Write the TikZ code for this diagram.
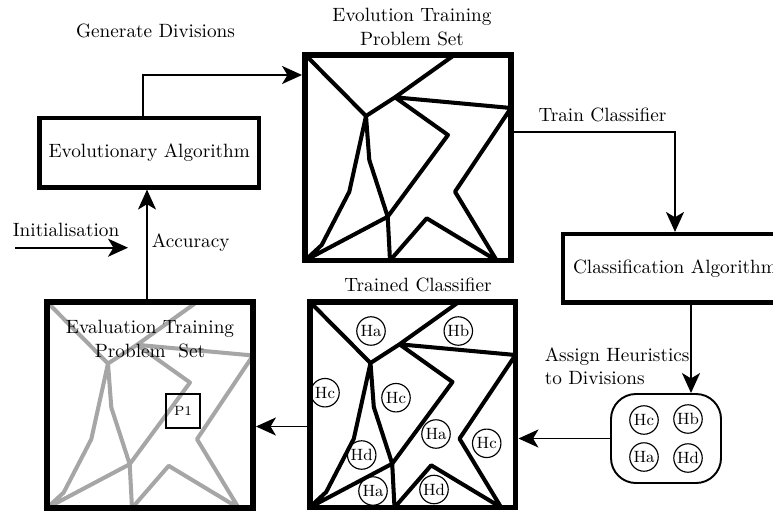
\documentclass[tikz,border=0pt]{standalone}
\usetikzlibrary{arrows.meta,calc}

% Partition of a problem set into divisions, drawn about the square's centre.
\tikzset{
  regions/.pic={
    \draw[line width=2.1pt,line join=round,#1]
      (-103,-103) -- (-42,-41.5) -- (-13,-60.2) -- (47,-103)
      (-13,-60.2) -- (103,-49.5)
      (-13,-60.2) -- (40,-22.5) -- (-20.3,59.2) -- (-103,103)
      (-42,-41.5) -- (-58.7,34.2) -- (-86.3,87.5) -- (-103,103)
      (-42,-41.5) -- (-38.7,2.5) -- (-20.3,59.2) -- (-18,103)
      (-18,103) -- (18.7,60.8) -- (88.7,103)
      (103,-49.5) -- (47,34.2) -- (88.7,103);
  }
}

\begin{document}
\begin{tikzpicture}[x=0.52pt,y=-0.52pt,
  every node/.style={font=\fontsize{10}{12}\selectfont},
  arr/.style={line width=0.85pt,-{Stealth[length=10.4pt,width=9.4pt,inset=2.8pt]}},
  probset/.style={draw,line width=3.1pt,minimum size=107.1pt,inner sep=0pt},
  algbox/.style={draw,line width=2.2pt,inner sep=0pt},
  heur/.style={draw,circle,line width=0.6pt,minimum size=14.8pt,inner sep=0pt,
               font=\fontsize{8.5}{10}\selectfont},
  probe/.style={draw,line width=1pt,minimum size=17.7pt,inner sep=0pt,
                font=\fontsize{7}{8}\selectfont}
]
\useasboundingbox (0,0) rectangle (773,512);
\clip (0,0) rectangle (773,512);

% problem sets
\pic at (408,157.5) {regions=black};
\node[probset] (evo) at (408,157.5) {};

\pic at (412.5,404.5) {regions=black};
\node[probset] (tcl) at (412.5,404.5) {};

\pic at (150,405) {regions=black!35};
\node[probset] (ev) at (150,405) {};

% heuristics assigned to divisions
\node[heur] (ha1) at (371,331) {Ha};
\node[heur] (hb1) at (458.3,331) {Hb};
\node[heur] (hc1) at (325,392.7) {Hc};
\node[heur] (hc2) at (396,397.7) {Hc};
\node[heur] (ha2) at (436,434) {Ha};
\node[heur] (hc3) at (486.7,443.3) {Hc};
\node[heur] (hd1) at (361.7,455) {Hd};
\node[heur] (ha3) at (373,491) {Ha};
\node[heur] (hd2) at (434,489.5) {Hd};

% problem in the evaluation set
\node[probe] (p1) at (183,411) {P1};
\node[align=center] (evalt) at (150,339) {Evaluation Training\\Problem\ \ Set};

% algorithms
\node[algbox,minimum width=114.1pt,minimum height=36.1pt] (ea) at (149.25,152.75) {Evolutionary Algorithm};
\node[algbox,minimum width=116.5pt,minimum height=35.6pt] (cls) at (675,268.25) {Classification Algorithm};

% pool of heuristics
\node[draw,line width=1pt,rounded corners=13pt,minimum width=57.2pt,minimum height=46.3pt] (hbox) at (666,438.5) {};
\node[heur] (phc) at (644,420) {Hc};
\node[heur] (phb) at (688,419) {Hb};
\node[heur] (pha) at (644,457) {Ha};
\node[heur] (phd) at (688,458) {Hd};

% labels
\node (gen) at (155.5,31) {Generate Divisions};
\node[align=center] (evot) at (412,27) {Evolution Training\\Problem Set};
\node (trc) at (602.5,115) {Train Classifier};
\node[align=left,anchor=west] (ahd) at (538,366) {Assign Heuristics\\to Divisions};
\node (tclt) at (418,285) {Trained Classifier};
\node (init) at (66,230) {Initialisation};
\node (acc) at (190.7,243) {Accuracy};

% connectors
\draw[arr] ($(ea.north)+(-6,0)$) |- ($(evo.west)+(0,-82.5)$);
\draw[arr] ($(evo.east)+(0,-25.2)$) -| (cls.north);
\coordinate (c3) at ($(cls.south)+(16,0)$);
\draw[arr] (c3) -- (c3 |- hbox.north);
\draw[arr] (hbox.west) -- (hbox.west -| tcl.east);
\coordinate (c5) at ($(tcl.west)+(0,22)$);
\draw[arr] (c5) -- (c5 -| ev.east);
\coordinate (c6) at ($(ev.north)+(-3,0)$);
\draw[arr] (c6) -- (c6 |- ea.south);
\coordinate (i1) at (15,247.7);
\coordinate (i2) at (128,247.7);
\draw[arr] (i1) -- (i2);
\end{tikzpicture}
\end{document}
